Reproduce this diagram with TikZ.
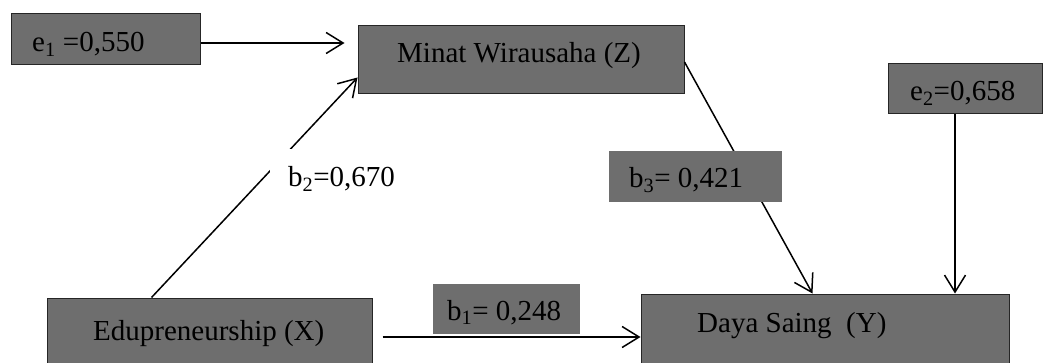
\documentclass[tikz,border=0pt]{standalone}
\usepackage{fontspec}
\setmainfont{Liberation Serif}
\usetikzlibrary{arrows.meta,calc}
\definecolor{boxgray}{RGB}{110,110,110}
\tikzset{
  box/.style={draw=black!85, line width=1pt, fill=boxgray, inner sep=0pt},
  plain/.style={fill=boxgray, inner sep=0pt},
  txt/.style={inner sep=0pt, anchor=base west, font=\fontsize{29}{34}\selectfont},
  arr/.style={line width=1.5pt, -{Straight Barb[length=17pt,width=21pt,line width=1.5pt]}},
}
\begin{document}
\begin{tikzpicture}[x=1pt,y=-1pt]
\useasboundingbox (0,0) rectangle (1043,363);
\clip (0,0) rectangle (1043,363);
% boxes
\node[box, minimum width=189, minimum height=51] (e1) at (105.5,39.5) {};
\node[box, minimum width=326, minimum height=68] (Z) at (521,60) {};
\node[box, minimum width=154, minimum height=50] (e2) at (965,89) {};
\node[box, minimum width=325, minimum height=82] (X) at (209.5,339) {};
\node[box, minimum width=368, minimum height=86] (Y) at (825,337) {};
% connectors
\draw[arr, shorten >=13pt] ([yshift=-3.5pt]e1.east) -- ([yshift=-3.5pt]e1.east -| Z.west);
\draw[arr] ([xshift=105pt]X.north west) -- ([yshift=17pt]Z.south west);
\draw[arr] ([yshift=-2pt]Z.east) -- ([xshift=172pt]Y.north west);
\draw[arr] ([xshift=-10pt]e2.south) -- ([xshift=-10pt]e2.south |- Y.north);
\draw[arr] ([xshift=10pt]X.east |- Y.west) -- (Y.west);
% coefficient labels
\node[plain, minimum width=173, minimum height=51] (b3box) at (695.5,176.5) {};
\node[plain, minimum width=147, minimum height=50] (b1box) at (506.5,309) {};
\node[txt, fill=white, inner xsep=18pt, inner ysep=18pt] (b2) at (270,187) {b\textsubscript{2}=0,670};
% texts
\node[txt] (e1t) at (32,52) {e\textsubscript{1} =0,550};
\node[txt] (Zt) at (397,63) {Minat Wirausaha (Z)};
\node[txt] (e2t) at (910,101) {e\textsubscript{2}=0,658};
\node[txt] (b3t) at (629,188) {b\textsubscript{3}= 0,421};
\node[txt] (b1t) at (447,320) {b\textsubscript{1}= 0,248};
\node[txt] (Yt) at (697,332) {Daya Saing\ \ (Y)};
\node[txt] (Xt) at (93,340) {Edupreneurship (X)};
\end{tikzpicture}
\end{document}
